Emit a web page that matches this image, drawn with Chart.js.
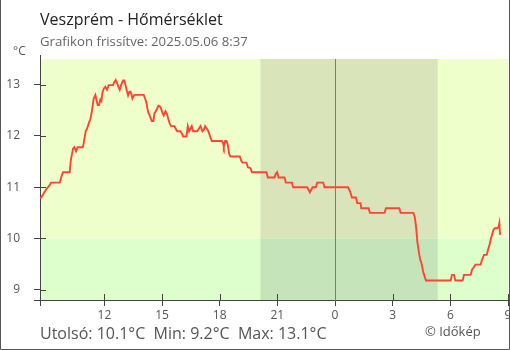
<!DOCTYPE html>
<html><head><meta charset="utf-8">
<script src="https://cdn.jsdelivr.net/npm/chart.js@4"></script>
<style>html,body{margin:0;padding:0;background:#fff}#wrap{width:510px;height:350px;position:relative}</style>
</head><body><div id="wrap"><canvas id="c" width="510" height="350"></canvas></div>
<script>
// time in hours since previous midnight (24 = midnight, 33 = 09:00 next day)
const hours = [8.667,8.77,8.876,9.015,9.136,9.223,9.674,9.709,9.778,9.848,10.195,10.23,10.264,10.317,10.369,10.438,10.525,10.611,10.872,10.924,10.959,11.028,11.098,11.184,11.271,11.34,11.392,11.444,11.531,11.583,11.653,11.722,11.792,11.844,11.896,11.965,12.052,12.139,12.225,12.451,12.521,12.59,12.66,12.746,12.798,12.868,12.972,13.041,13.093,13.18,13.232,13.302,13.354,13.406,13.458,13.562,14.048,14.117,14.187,14.239,14.291,14.343,14.464,14.551,14.603,14.673,14.742,14.812,14.881,14.95,15.02,15.089,15.176,15.263,15.332,15.401,15.471,15.645,15.714,15.783,15.957,16.044,16.096,16.27,16.339,16.409,16.547,16.617,16.825,16.93,16.999,17.103,17.173,17.242,17.311,17.381,17.45,17.519,17.589,18.11,18.179,18.214,18.283,18.353,18.422,18.492,18.561,19.047,19.117,19.186,19.394,19.464,19.603,19.672,20.435,20.504,20.852,20.921,20.991,21.06,21.372,21.442,21.754,21.824,22.553,22.622,22.692,22.761,22.831,23.004,23.074,23.386,23.455,24.67,24.74,24.809,24.878,25.087,25.156,25.33,25.365,25.747,25.816,26.58,26.649,27.344,27.413,28.072,28.142,28.194,28.246,28.281,28.333,28.385,28.437,28.489,28.541,28.593,28.645,28.732,30.016,30.086,30.19,30.259,30.641,30.71,31.058,31.127,31.231,31.3,31.578,31.647,31.751,31.891,31.96,32.029,32.099,32.168,32.238,32.307,32.446,32.516,32.55,32.585];
const temps = [10.78,10.83,10.90,10.98,11.03,11.09,11.09,11.13,11.22,11.29,11.29,11.44,11.55,11.65,11.75,11.78,11.70,11.78,11.78,11.85,11.94,12.09,12.14,12.24,12.33,12.46,12.59,12.73,12.80,12.71,12.60,12.60,12.71,12.68,12.84,12.92,12.96,12.90,12.99,12.99,13.05,13.09,13.03,12.94,12.90,12.99,13.08,13.08,13.00,12.86,12.79,12.86,12.86,12.82,12.73,12.80,12.80,12.73,12.65,12.53,12.45,12.41,12.29,12.29,12.44,12.48,12.53,12.59,12.58,12.53,12.45,12.40,12.48,12.42,12.32,12.24,12.19,12.19,12.14,12.09,12.09,12.04,11.99,11.99,12.19,12.09,12.19,12.09,12.09,12.15,12.19,12.09,12.12,12.19,12.15,12.11,12.05,11.97,11.90,11.90,11.85,11.79,11.90,11.90,11.83,11.65,11.60,11.60,11.52,11.48,11.48,11.39,11.37,11.29,11.29,11.19,11.19,11.26,11.29,11.19,11.19,11.09,11.09,11.00,11.00,10.95,10.90,10.95,11.00,11.00,11.09,11.09,11.00,11.00,10.95,10.89,10.80,10.80,10.69,10.69,10.59,10.59,10.50,10.50,10.59,10.59,10.50,10.50,10.43,10.30,10.11,9.94,9.81,9.68,9.58,9.53,9.44,9.34,9.28,9.18,9.18,9.29,9.29,9.18,9.18,9.29,9.29,9.39,9.44,9.49,9.49,9.58,9.68,9.68,9.78,9.86,9.98,10.07,10.16,10.20,10.20,10.24,10.30,10.07];
const xTickValues = [12,15,18,21,24,27,30,33];
const xTickLabels = ['12','15','18','21','0','3','6','9'];
const yTickValues = [9,10,11,12,13];
const titleText = 'Veszprém - Hőmérséklet';
const subtitleText = 'Grafikon frissítve: 2025.05.06 8:37';
const statsText = 'Utolsó: 10.1°C  Min: 9.2°C  Max: 13.1°C';
const creditText = '© Időkép';
const unitText = '°C';
const threshold = 10;
const nightStart = 20.12, nightEnd = 29.34, midnight = 24;

const FONT = "'Open Sans', 'Noto Sans', sans-serif";

const decor = {
  id: 'decor',
  beforeDraw(chart) {
    const {ctx, chartArea: a, scales: {x, y}} = chart;
    ctx.save();
    ctx.fillStyle = '#fff';
    ctx.fillRect(0, 0, chart.width, chart.height);
    const yT = y.getPixelForValue(threshold);
    const w = a.right - a.left;
    ctx.fillStyle = '#efffcc'; ctx.fillRect(a.left, a.top, w, yT - a.top);
    ctx.fillStyle = '#ddffcc'; ctx.fillRect(a.left, yT, w, a.bottom - yT);
    const xs = x.getPixelForValue(nightStart), xe = x.getPixelForValue(nightEnd);
    ctx.fillStyle = '#d9e4bb'; ctx.fillRect(xs, a.top, xe - xs, yT - a.top);
    ctx.fillStyle = '#c6e4b9'; ctx.fillRect(xs, yT, xe - xs, a.bottom - yT);
    ctx.restore();
  },
  afterDraw(chart) {
    const {ctx, chartArea: a, scales: {x, y}} = chart;
    ctx.save();
    // midnight marker
    const mx = Math.round(x.getPixelForValue(midnight));
    ctx.fillStyle = '#1e90ff';
    ctx.fillRect(mx, a.top, 1, a.bottom - a.top + 1);
    ctx.strokeStyle = '#444'; ctx.lineWidth = 1;
    ctx.beginPath();
    yTickValues.forEach(v => { const py = Math.round(y.getPixelForValue(v)) + 0.5; ctx.moveTo(a.left, py); ctx.lineTo(a.left + 6, py); });
    xTickValues.forEach(v => { if (v === midnight) return; const px = Math.round(x.getPixelForValue(v)) + 0.5; ctx.moveTo(px, a.bottom); ctx.lineTo(px, a.bottom - 6); });
    const L = Math.round(a.left) + 0.5, B = Math.round(a.bottom) + 0.5;
    ctx.moveTo(a.left - 6, B); ctx.lineTo(a.left, B);
    ctx.moveTo(L, a.bottom); ctx.lineTo(L, a.bottom + 6);
    ctx.moveTo(L, a.top); ctx.lineTo(L, a.top - 4);
    ctx.stroke();
    // frame
    ctx.strokeStyle = '#555';
    ctx.beginPath();
    ctx.moveTo(0.5, 0); ctx.lineTo(0.5, 349.5); ctx.lineTo(509.5, 349.5); ctx.lineTo(509.5, 0);
    ctx.stroke();
    // texts
    ctx.textBaseline = 'alphabetic'; ctx.textAlign = 'left';
    ctx.fillStyle = '#222'; ctx.font = '16px ' + FONT; ctx.fillText(titleText, 40, 25);
    ctx.fillStyle = '#666'; ctx.font = '13.2px ' + FONT; ctx.fillText(subtitleText, 40, 46);
    ctx.fillStyle = '#555'; ctx.font = '12px ' + FONT; ctx.fillText(unitText, 13, 55);
    ctx.fillStyle = '#555'; ctx.font = '16px ' + FONT; ctx.fillText(statsText, 40, 339);
    ctx.fillStyle = '#555'; ctx.font = '13px ' + FONT; ctx.fillText(creditText, 425, 336);
    ctx.restore();
  }
};

new Chart(document.getElementById('c'), {
  type: 'line',
  data: {
    datasets: [{
      data: hours.map((h, i) => ({x: h, y: temps[i]})),
      borderColor: '#ff4433', borderWidth: 1.9, pointRadius: 0, tension: 0, fill: false
    }]
  },
  options: {
    responsive: false, animation: false, devicePixelRatio: 1,
    layout: {padding: {top: 59, right: 2, bottom: 0, left: 0}},
    plugins: {legend: {display: false}, tooltip: {enabled: false}, title: {display: false}},
    scales: {
      x: {
        type: 'linear', min: 8.65, max: 33,
        afterBuildTicks: s => { s.ticks = xTickValues.map(v => ({value: v})); },
        afterFit: s => { s.height = 50; s.paddingLeft = 0; s.paddingRight = 0; },
        ticks: {callback: (v, i) => xTickLabels[i], color: '#555', font: {family: FONT, size: 12}, maxRotation: 0, autoSkip: false, padding: 2},
        grid: {display: true, drawOnChartArea: false, tickLength: 6, color: '#444'},
        border: {display: true, color: '#444'}
      },
      y: {
        type: 'linear', min: 8.8, max: 13.5,
        afterBuildTicks: s => { s.ticks = yTickValues.map(v => ({value: v})); },
        afterFit: s => { s.width = 40; s.paddingTop = 0; s.paddingBottom = 0; },
        ticks: {color: '#555', font: {family: FONT, size: 12}, padding: 14},
        grid: {display: true, drawOnChartArea: false, tickLength: 6, color: '#444'},
        border: {display: true, color: '#444'}
      }
    }
  },
  plugins: [decor]
});
</script></body></html>
